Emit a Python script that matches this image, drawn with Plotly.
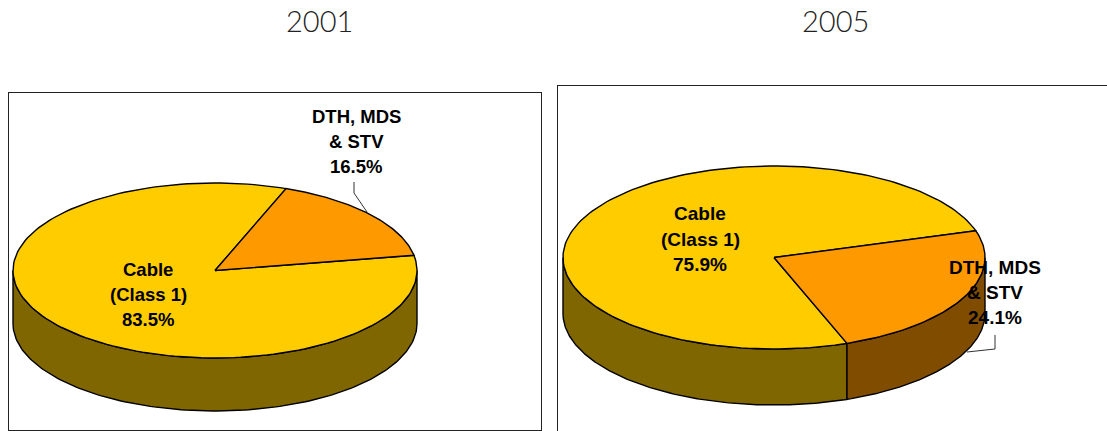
import numpy as np
import plotly.graph_objects as go

# ---- data ----
years = ["2001", "2005"]
segments = ["Cable (Class 1)", "DTH, MDS & STV"]
cable_share = [83.5, 75.9]
dth_share = [16.5, 24.1]
label_lines_cable = ["Cable", "(Class 1)"]
label_lines_dth = ["DTH, MDS", "& STV"]

# ---- style / layout ----
W, H = 1107, 431
TOP = {"cable": "#FFCC00", "dth": "#FF9900"}
SIDE = {"cable": "#806600", "dth": "#804D00"}
FONT = "Liberation Sans"
LINE_GAP = 25.3

panels = [
    dict(frame=(9, 540.5, 93, 429.5), cx=215, cy=270.5, rx=202, ry=87.5, depth=53,
         dth_upper_edge=10.0, wraps_front=False, label_size=18.5,
         cable_xy=(148, 269), dth_xy=(356, 116),
         leader=[(354, 182), (354, 193), (367, 212)], title_x=319, closed=True),
    dict(frame=(558, 1107, 86, 431), cx=774, cy=257.5, rx=211, ry=91.5, depth=56,
         dth_upper_edge=17.0, wraps_front=True, label_size=19,
         cable_xy=(700.5, 214), dth_xy=(995, 267),
         leader=[(995, 335), (995, 349), (967, 352)], title_x=835, closed=False),
]


def arc(a0, a1, n=160):
    return np.radians(np.linspace(a0, a1, n))


fig = go.Figure()
layout_axes = {}
annotations = []

for i, p in enumerate(panels):
    ax = "" if i == 0 else str(i + 1)
    xa, ya = "x" + ax, "y" + ax
    x0, x1, y0, y1 = p["frame"]
    ux = lambda px: (px - p["cx"]) / p["rx"]
    uy = lambda py: (p["cy"] - py) / p["ry"]
    depth = p["depth"] / p["ry"]

    axis_style = dict(showgrid=False, zeroline=False, showticklabels=False, ticks="",
                      showline=True, linecolor="#222222", linewidth=1.3,
                      mirror=p["closed"], fixedrange=True)
    layout_axes["xaxis" + ax] = dict(domain=[x0 / W, x1 / W], range=[ux(x0), ux(x1)],
                                     anchor=ya, side="top", **axis_style)
    layout_axes["yaxis" + ax] = dict(domain=[1 - y1 / H, 1 - y0 / H], range=[uy(y1), uy(y0)],
                                     anchor=xa, side="left", **axis_style)

    def poly(xs, ys, color):
        fig.add_trace(go.Scatter(
            x=xs, y=ys, mode="lines", fill="toself", fillcolor=color,
            line=dict(color="#000000", width=1.4), hoverinfo="skip",
            showlegend=False, xaxis=xa, yaxis=ya))

    # the DTH slice sweeps its share of the circle from one edge to the other
    sweep = dth_share[i] * 3.6
    if p["wraps_front"]:
        sl1 = p["dth_upper_edge"]
        sl0 = sl1 - sweep
        walls = [(180.0, 360.0 + sl0, "cable"), (360.0 + sl0, 360.0, "dth")]
    else:
        sl0 = p["dth_upper_edge"]
        sl1 = sl0 + sweep
        walls = [(180.0, 360.0, "cable")]

    # side walls: only the front half (180..360 deg) is visible
    for lo, hi, key in walls:
        t = arc(lo, hi)
        xs = np.concatenate([np.cos(t), np.cos(t[::-1])])
        ys = np.concatenate([np.sin(t), np.sin(t[::-1]) - depth])
        poly(np.append(xs, xs[0]), np.append(ys, ys[0]), SIDE[key])

    # top faces
    t = arc(sl1, sl0 + 360)
    poly(np.concatenate([[0], np.cos(t), [0]]), np.concatenate([[0], np.sin(t), [0]]), TOP["cable"])
    t = arc(sl0, sl1, 80)
    poly(np.concatenate([[0], np.cos(t), [0]]), np.concatenate([[0], np.sin(t), [0]]), TOP["dth"])

    # leader line
    fig.add_trace(go.Scatter(
        x=[ux(a) for a, _ in p["leader"]], y=[uy(b) for _, b in p["leader"]],
        mode="lines", line=dict(color="#333333", width=1), hoverinfo="skip",
        showlegend=False, xaxis=xa, yaxis=ya))

    # labels, one line at a time to hold the wide line spacing
    for lines, share, (lx, ly) in [
        (label_lines_cable, cable_share[i], p["cable_xy"]),
        (label_lines_dth, dth_share[i], p["dth_xy"]),
    ]:
        for k, txt in enumerate(lines + [f"{share:.1f}%"]):
            annotations.append(dict(
                xref="paper", yref="paper", x=lx / W, y=1 - (ly + k * LINE_GAP) / H,
                text=f"<b>{txt}</b>", showarrow=False, xanchor="center", yanchor="middle",
                font=dict(family=FONT, size=p["label_size"], color="#000000")))

    annotations.append(dict(
        xref="paper", yref="paper", x=p["title_x"] / W, y=1 - 20 / H, text=years[i],
        showarrow=False, xanchor="center", yanchor="middle",
        font=dict(family="Lato Light, Lato", size=29, color="#222222")))

fig.update_layout(
    width=W, height=H, margin=dict(l=0, r=0, t=0, b=0),
    paper_bgcolor="white", plot_bgcolor="white", showlegend=False,
    annotations=annotations, **layout_axes)

fig.write_html("out.html", config={"displayModeBar": False},
               post_script="document.body.style.margin='0';")
